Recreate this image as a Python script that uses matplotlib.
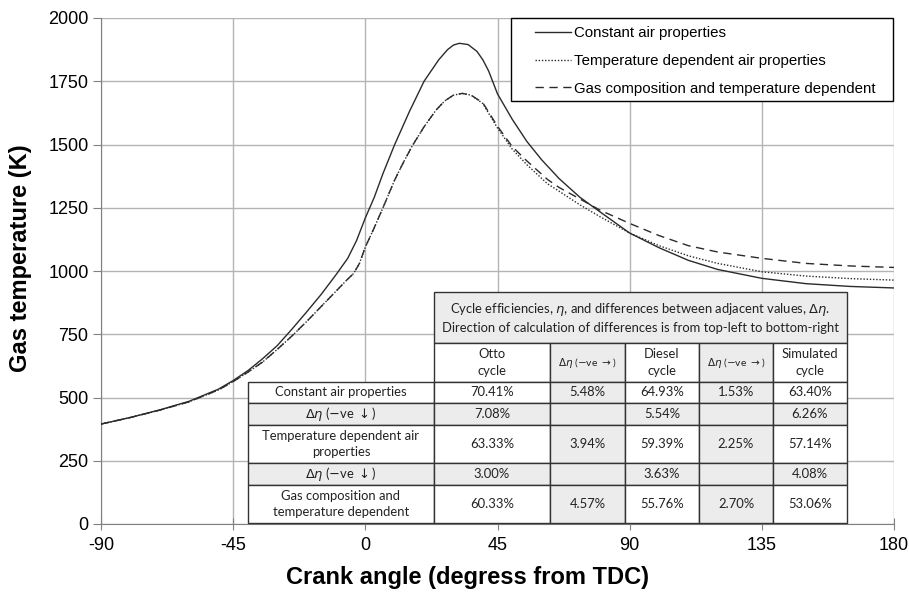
import matplotlib
matplotlib.use("Agg")
import matplotlib.pyplot as plt
from matplotlib.patches import Rectangle

# gas temperature (K) against crank angle
angle_const = [-90, -80, -70, -60, -50, -45, -40, -35, -30, -25, -20, -15, -10, -6, -3, 0, 3, 6, 10, 15,
               20, 25, 28, 30, 32, 35, 38, 40, 42, 45, 50, 55, 60, 66, 73, 80, 90, 100, 110, 120,
               135, 150, 165, 180]
temp_const = [395, 421, 451, 485, 533, 567, 606, 653, 705, 770, 838, 908, 985, 1050, 1120, 1210, 1290, 1385, 1500, 1630,
              1750, 1835, 1875, 1893, 1900, 1895, 1868, 1835, 1790, 1700, 1600, 1512, 1440, 1365, 1292, 1233, 1150, 1092, 1042, 1006,
              971, 950, 939, 933]

angle_var = [-90, -80, -70, -60, -50, -45, -40, -35, -30, -25, -20, -15, -10, -6, -4, -2, 0, 3, 6, 10,
             13, 16, 20, 24, 27, 30, 33, 36, 40, 45, 50, 55, 62, 66, 73, 80, 90, 100, 110, 120,
             135, 150, 165, 180]
temp_tdep = [395, 421, 450, 483, 530, 563, 600, 640, 690, 743, 800, 860, 920, 968, 990, 1030, 1095, 1170, 1250, 1360,
             1430, 1495, 1570, 1635, 1672, 1695, 1702, 1695, 1662, 1565, 1482, 1420, 1345, 1315, 1262, 1214, 1150, 1100, 1060, 1030,
             997, 980, 970, 964]
temp_gas = [395, 421, 450, 483, 530, 563, 600, 640, 690, 743, 800, 860, 920, 968, 990, 1030, 1095, 1170, 1250, 1360,
            1430, 1495, 1570, 1635, 1672, 1695, 1702, 1695, 1665, 1572, 1492, 1435, 1362, 1330, 1285, 1240, 1188, 1140, 1100, 1075,
            1050, 1030, 1020, 1014]

series_names = ["Constant air properties",
                "Temperature dependent air properties",
                "Gas composition and temperature dependent"]

x_ticks = [-90, -45, 0, 45, 90, 135, 180]
y_ticks = [0, 250, 500, 750, 1000, 1250, 1500, 1750, 2000]

# table content
table_title = ("Cycle efficiencies, $\\eta$, and differences between adjacent values, $\\Delta\\eta$.\n"
               "Direction of calculation of differences is from top-left to bottom-right")
col_labels = ["Otto\ncycle", "$\\Delta\\eta$ ($-$ve $\\rightarrow$)", "Diesel\ncycle",
              "$\\Delta\\eta$ ($-$ve $\\rightarrow$)", "Simulated\ncycle"]
row_labels = ["Constant air properties", "$\\Delta\\eta$ ($-$ve$\\,\\downarrow$)",
              "Temperature dependent air\nproperties", "$\\Delta\\eta$ ($-$ve$\\,\\downarrow$)",
              "Gas composition and\ntemperature dependent"]
cell_text = [["70.41%", "5.48%", "64.93%", "1.53%", "63.40%"],
             ["7.08%", "", "5.54%", "", "6.26%"],
             ["63.33%", "3.94%", "59.39%", "2.25%", "57.14%"],
             ["3.00%", "", "3.63%", "", "4.08%"],
             ["60.33%", "4.57%", "55.76%", "2.70%", "53.06%"]]

plt.rcParams['font.family'] = ['Liberation Sans', 'DejaVu Sans']
plt.rcParams['axes.unicode_minus'] = False

fig = plt.figure(figsize=(9.09, 5.99), dpi=100)
ax = fig.add_axes([101/909, 1-524/599, 793/909, 506/599])


# pixel position of the original picture -> axes fraction
def axp(px, py):
    return (px - 101) / 793, (524 - py) / 506


line_col = '#2b2b2b'
ax.plot(angle_const, temp_const, color=line_col, lw=1.0, ls='-', label=series_names[0], zorder=3)
ax.plot(angle_var, temp_tdep, color=line_col, lw=1.0, ls=(0, (1, 1.3)), label=series_names[1], zorder=3)
ax.plot(angle_var, temp_gas, color=line_col, lw=1.0, ls=(0, (6, 4)), label=series_names[2], zorder=3)

ax.set_xlim(-90, 180)
ax.set_ylim(0, 2000)
ax.set_xticks(x_ticks)
ax.set_yticks(y_ticks)
ax.grid(True, color='#b4b4b4', lw=1.0)
ax.set_axisbelow(True)
for s in ['top', 'right']:
    ax.spines[s].set_visible(False)
for s in ['left', 'bottom']:
    ax.spines[s].set_color('#808080')
ax.tick_params(axis='y', direction='out', length=6, color='#808080', labelsize=13, pad=3)
ax.tick_params(axis='x', direction='inout', length=8, color='#808080', labelsize=13, pad=5)
ax.set_xlabel("Crank angle (degress from TDC)", fontsize=17, fontweight='bold')
ax.set_ylabel("Gas temperature (K)", fontsize=17, fontweight='bold')
ax.xaxis.set_label_coords(*axp(468, 566))
ax.yaxis.set_label_coords(*axp(32, 258))

# legend: frame drawn by hand so the padding matches
fx0, fy1 = axp(511, 18)
fx1, fy0 = axp(893, 101)
ax.add_patch(Rectangle((fx0, fy0), fx1 - fx0, fy1 - fy0, transform=ax.transAxes,
                       facecolor='white', edgecolor='black', lw=1.0, zorder=4, clip_on=False))
leg = ax.legend(loc='upper left', bbox_to_anchor=axp(535, 26), frameon=False,
                borderaxespad=0, borderpad=0, handlelength=2.4, handletextpad=0.2,
                fontsize=10.8, labelspacing=0.92)
leg.set_zorder(5)

col_x = [248, 434, 550, 625, 699, 773, 847]
row_y = [292, 343, 382, 403, 425, 463, 485, 523]
shade = '#ececec'
edge = '#333333'
tfont = ['Lato', 'DejaVu Sans']


def cell(x0, x1, y0, y1, txt, fill, size=9.4):
    ax0, ay1 = axp(x0, y0)
    ax1, ay0 = axp(x1, y1)
    ax.add_patch(Rectangle((ax0, ay0), ax1 - ax0, ay1 - ay0, transform=ax.transAxes,
                           facecolor=fill, edgecolor=edge, lw=1.0, zorder=6, clip_on=False))
    if txt:
        ax.text((ax0 + ax1) / 2, (ay0 + ay1) / 2, txt, transform=ax.transAxes, ha='center',
                va='center', fontsize=size, family=tfont, color='#222222', zorder=7,
                linespacing=1.45)


cell(col_x[1], col_x[6], row_y[0], row_y[1], table_title, shade, 9.4)
for j, lab in enumerate(col_labels):
    is_d = (j % 2 == 1)
    cell(col_x[j + 1], col_x[j + 2], row_y[1], row_y[2], lab, shade if is_d else 'white',
         7.5 if is_d else 9.4)
for i, lab in enumerate(row_labels):
    r_d = (i % 2 == 1)
    cell(col_x[0], col_x[1], row_y[i + 2], row_y[i + 3], lab, shade if r_d else 'white', 9.4)
    for j, v in enumerate(cell_text[i]):
        c_d = (j % 2 == 1)
        cell(col_x[j + 1], col_x[j + 2], row_y[i + 2], row_y[i + 3], v,
             shade if (r_d or c_d) else 'white', 9.4)

fig.savefig("out.png", dpi=100)
